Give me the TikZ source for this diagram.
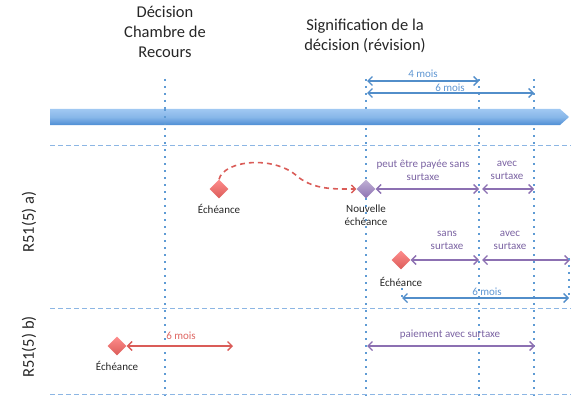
\documentclass[tikz,border=0pt]{standalone}
\usepackage{fontspec}
\setmainfont{Carlito}
\usetikzlibrary{arrows.meta,shapes.geometric}
\definecolor{dotblue}{RGB}{95,155,212}
\definecolor{dashblue}{RGB}{140,182,228}
\definecolor{arrblue}{RGB}{82,142,202}
\definecolor{txtblue}{RGB}{95,150,210}
\definecolor{purp}{RGB}{140,112,178}
\definecolor{purptxt}{RGB}{122,98,162}
\definecolor{redarr}{RGB}{218,92,88}
\definecolor{redtxt}{RGB}{222,102,98}
\definecolor{barTop}{RGB}{160,200,242}
\definecolor{barBot}{RGB}{78,142,212}
\tikzset{
  vdot/.style={draw=dotblue,line width=1.6pt,dash pattern=on 1.6pt off 5.4pt},
  hdash/.style={draw=dashblue,line width=0.9pt,dash pattern=on 5pt off 3pt},
  tip/.style={{Straight Barb[length=4.5pt,width=9pt,line width=1.4pt]}-{Straight Barb[length=4.5pt,width=9pt,line width=1.4pt]}},
  parr/.style={draw=purp,line width=1.6pt,tip},
  barr/.style={draw=arrblue,line width=1.6pt,tip},
  rarr/.style={draw=redarr,line width=1.6pt,tip},
  title/.style={font=\fontsize{16.5}{20}\selectfont,align=center,text=black!85},
  lbl/.style={font=\fontsize{11}{13}\selectfont,align=center,inner sep=0pt},
  plbl/.style={lbl,text=purptxt},
  blbl/.style={lbl,text=txtblue},
  rlbl/.style={lbl,text=redtxt},
  klbl/.style={lbl,text=black!85},
  rdia/.style={diamond,inner sep=0pt,minimum width=19pt,minimum height=19pt,top color=red!45!white,bottom color=redarr,draw=none},
  pdia/.style={diamond,inner sep=0pt,minimum width=19pt,minimum height=19pt,top color=purp!55!white,bottom color=purp,draw=none}
}
\begin{document}
\begin{tikzpicture}[x=1pt,y=-1pt]
\useasboundingbox (0,0) rectangle (580,401);
% titles
\node[title] (t1) at (165,32) {Décision\\Chambre de\\Recours};
\node[title] (t2) at (365,36) {Signification de la\\décision (révision)};
\node[title,rotate=90] (ra) at (29,222) {R51(5) a)};
\node[title,rotate=90] (rb) at (29,347) {R51(5) b)};
% vertical dotted lines
\foreach \n/\x in {a/165,b/366,c/479,d/534}{
  \coordinate (top\n) at (\x,79);
  \coordinate (bot\n) at (\x,396);
  \draw[vdot] (top\n) -- (bot\n);
}
% horizontal dashed lines
\foreach \n/\y in {1/145,2/308,3/394}{
  \coordinate (hl\n) at (50,\y);
  \coordinate (hr\n) at (571,\y);
  \draw[hdash] (hl\n) -- (hr\n);
}
% timeline bar
\shade[top color=barTop,bottom color=barBot,middle color=barTop!70!barBot]
  (50,109) -- (560,109) -- (569,117) -- (560,125) -- (50,125) -- cycle;
\draw[vdot] (165,109) -- (165,125);
% top arrows
\coordinate (m4a) at (367,81); \coordinate (m4b) at (479,81);
\coordinate (m6a) at (367,93); \coordinate (m6b) at (534,93);
\draw[barr] (m4a) -- (m4b);
\draw[barr] (m6a) -- (m6b);
\node[blbl] (l4) at (423,73.5) {4 mois};
\node[blbl] (l6) at (450,88) {6 mois};
% R51(5) a) upper row
\node[rdia] (e1) at (219,189) {};
\node[klbl] (e1l) at (219,209) {Échéance};
\node[pdia] (ne) at (366,189) {};
\node[klbl] (nel) at (366,215) {Nouvelle\\échéance};
\draw[draw=redarr,line width=1.6pt,dash pattern=on 5pt off 4pt,-{Straight Barb[length=4pt,width=8pt,line width=1.4pt]}]
  (e1.north) .. controls (224,160) and (275,155) .. (298,177)
  .. controls (315,190) and (335,189) .. (ne.west);
\coordinate (p1b) at (479,189); \coordinate (p2a) at (482,189); \coordinate (p2b) at (534,189);
\draw[parr] (ne.east) -- (p1b);
\draw[parr] (p2a) -- (p2b);
\node[plbl] (pl1) at (423,170.5) {peut être payée sans\\surtaxe};
\node[plbl] (pl2) at (507,170.5) {avec\\surtaxe};
% R51(5) a) lower row
\node[rdia] (e2) at (401,260) {};
\node[klbl] (e2l) at (401,282) {Échéance};
\coordinate (q1b) at (479,260); \coordinate (q2a) at (482,260); \coordinate (q2b) at (570,260);
\draw[parr] (e2.east) -- (q1b);
\draw[parr] (q2a) -- (q2b);
\node[plbl] (ql1) at (447,240.5) {sans\\surtaxe};
\node[plbl] (ql2) at (510,240.5) {avec\\surtaxe};
\coordinate (s6a) at (402,298); \coordinate (s6b) at (569,298);
\coordinate (s6at) at (402,288); \coordinate (s6bt) at (569,258);
\draw[vdot] (s6at) -- (s6a);
\draw[vdot] (s6bt) -- (s6b);
\draw[barr] (s6a) -- (s6b);
\node[blbl] (sl6) at (487,292) {6 mois};
% R51(5) b)
\node[rdia] (e3) at (117,346) {};
\node[klbl] (e3l) at (117,366) {Échéance};
\coordinate (r6b) at (233,346);
\draw[rarr] (e3.east) -- (r6b);
\node[rlbl] (rl6) at (181,336) {6 mois};
\coordinate (u1a) at (367,346); \coordinate (u1b) at (535,346);
\draw[parr] (u1a) -- (u1b);
\node[plbl] (ul1) at (450,335) {paiement avec surtaxe};
\end{tikzpicture}
\end{document}
